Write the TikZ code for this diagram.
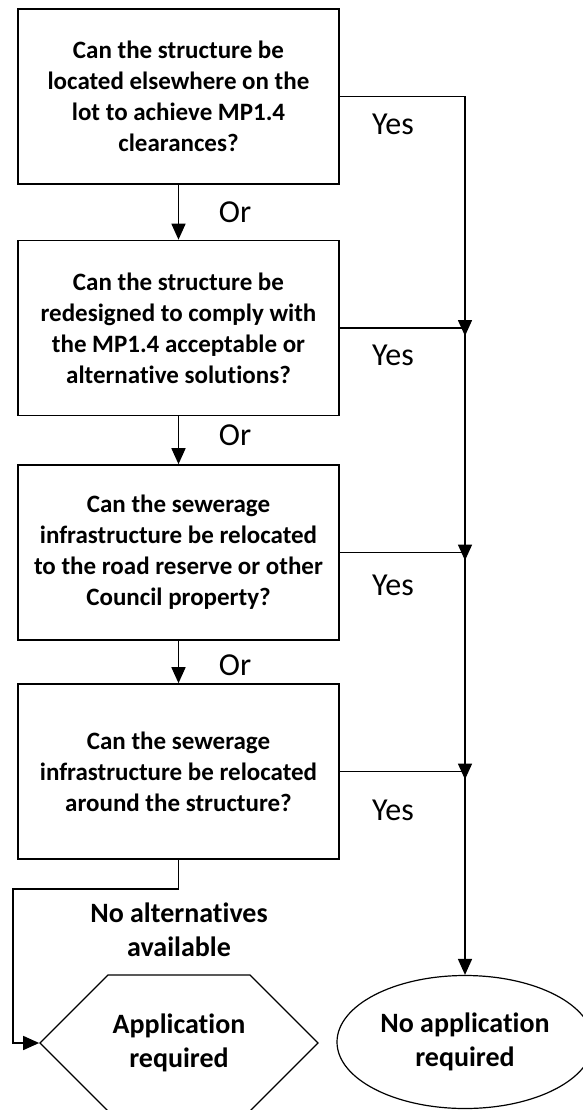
\documentclass[tikz,border=0pt]{standalone}
\usepackage{fontspec}
\setmainfont[Ligatures=NoCommon]{Carlito}
\usetikzlibrary{arrows.meta,shapes.geometric,shapes.symbols}

\begin{document}
\begin{tikzpicture}[x=1pt,y=-1pt,
        question/.style={draw,line width=1.6pt,minimum width=321pt,minimum height=175pt,
            inner sep=0pt,align=center,font=\bfseries\fontsize{25}{31}\selectfont},
        answer/.style={anchor=base,font=\fontsize{32}{38}\selectfont},
        outcome/.style={draw,line width=1.2pt,inner sep=0pt,align=center,
            font=\bfseries\fontsize{28}{34}\selectfont},
        flow/.style={line width=1.6pt,-{Triangle[length=16pt,width=14pt]}}]

        \useasboundingbox (0,0) rectangle (582,1110);

        %questions
        \node[question] (q1) at (178.5,96.5) {Can the structure be\\located elsewhere on the\\lot to achieve MP1.4\\clearances?};
        \node[question] (q2) at (178.5,328) {Can the structure be\\redesigned to comply with\\the MP1.4 acceptable or\\alternative solutions?};
        \node[question] (q3) at (178.5,552.5) {Can the sewerage\\infrastructure be relocated\\to the road reserve or other\\Council property?};
        \node[question] (q4) at (178.5,771.5) {Can the sewerage\\infrastructure be relocated\\around the structure?};

        %outcomes
        \node[outcome,signal,signal to=west and east,signal pointer angle=90,
            minimum width=278pt,minimum height=136pt] (app) at (179,1043) {Application\\required};
        \node[outcome,ellipse,minimum width=256pt,minimum height=133pt] (noapp) at (465,1042) {No application\\required};

        %or
        \foreach \a/\b in {q1/q2,q2/q3,q3/q4}
            \draw[flow] (\a.south) -- (\b.north);
        \foreach \y [count=\i] in {222,445,675}
            \node[answer] (or\i) at (235,\y) {Or};

        %yes
        \foreach \i in {1,2,3,4}{
            \coordinate (j\i) at (q\i.east -| noapp.north);
            \draw[line width=1.6pt] (q\i.east) -- (j\i);
        }
        \foreach \a/\b in {j1/j2,j2/j3,j3/j4}
            \draw[flow,shorten >=-8pt] (\a) -- (\b);
        \draw[flow] (j4) -- (noapp.north);
        \foreach \y [count=\i] in {135,365,595,820}
            \node[answer] (yes\i) at (393,\y) {Yes};

        %no alternatives
        \coordinate (bend) at (13,889);
        \draw[flow] (q4.south) -- (q4.south |- bend) -- (bend) |- (app.west);
        \node[align=center,font=\bfseries\fontsize{28}{34}\selectfont] (noalt) at (179,930) {No alternatives\\available};

    \end{tikzpicture}
\end{document}
